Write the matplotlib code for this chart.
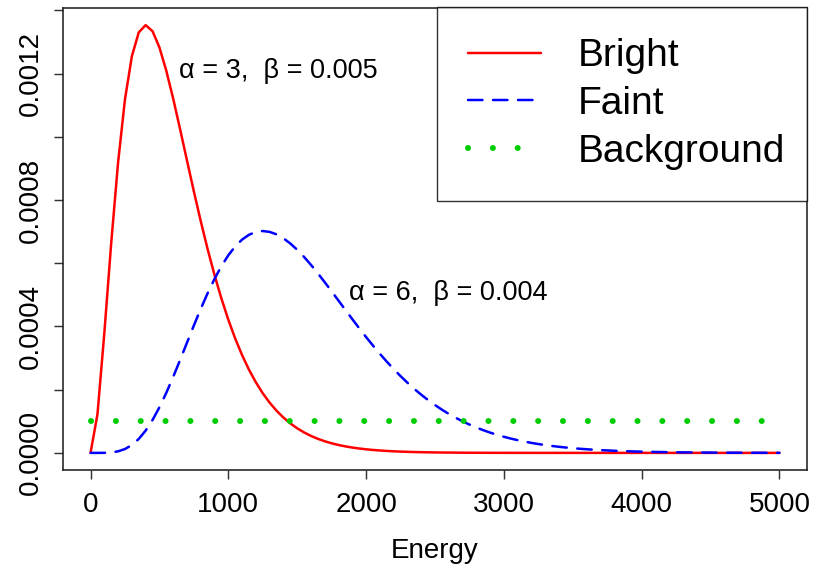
import math
import numpy as np
import matplotlib
matplotlib.use("Agg")
import matplotlib.pyplot as plt

plt.rcParams["font.family"] = ["Liberation Sans", "DejaVu Sans"]

# Energy grid on which the densities are evaluated
energy = np.linspace(0, 5000, 101)

# Gamma-distribution parameters (shape alpha, rate beta) for the two sources
bright_alpha, bright_beta = 3, 0.005
faint_alpha, faint_beta = 6, 0.004
background_level = 0.0001

series_labels = ["Bright", "Faint", "Background"]
x_ticks = [0, 1000, 2000, 3000, 4000, 5000]
y_ticks = [0.0, 0.0002, 0.0004, 0.0006, 0.0008, 0.0010, 0.0012, 0.0014]
y_tick_labels = ["0.0000", "", "0.0004", "", "0.0008", "", "0.0012", ""]


def gamma_pdf(x, a, b):
    return b ** a * x ** (a - 1) * np.exp(-b * x) / math.gamma(a)


bright = gamma_pdf(energy, bright_alpha, bright_beta)
faint = gamma_pdf(energy, faint_alpha, faint_beta)
background = np.full_like(energy, background_level)

DPI = 100
fig = plt.figure(figsize=(8.14, 5.65), dpi=DPI)
ax = fig.add_axes([63 / 814, 95 / 565, 744 / 814, 462 / 565])

px = 72 / DPI  # points per pixel

ax.plot(energy, bright, color="#FF0000", lw=2.5 * px, solid_capstyle="round",
        solid_joinstyle="round", label=series_labels[0])
ax.plot(energy, faint, color="#0000FF", lw=2.5 * px, dash_capstyle="round",
        linestyle=(0, (5.8, 4.2)), label=series_labels[1])
ax.plot(energy, background, color="#00CD00", lw=6 * px, dash_capstyle="round",
        linestyle=(0, (0.01, 4.13)), label=series_labels[2])

# Parameter annotations next to each curve
ax.text(1366, 0.001208, f"α = {bright_alpha},  β = {bright_beta}", fontsize=19.5,
        ha="center", va="center")
ax.text(2594, 0.000507, f"α = {faint_alpha},  β = {faint_beta}", fontsize=19.5,
        ha="center", va="center")

ymax = bright.max()
ax.set_xlim(-200, 5200)
ax.set_ylim(-0.04 * ymax, 1.04 * ymax)

ax.set_xticks(x_ticks)
ax.set_xticklabels([str(t) for t in x_ticks])
ax.set_yticks(y_ticks)
ax.set_yticklabels(y_tick_labels, rotation=90, va="center")
ax.tick_params(axis="both", labelsize=20, length=9 * px, width=1.45 * px,
               direction="out", color="#333333")
ax.tick_params(axis="x", pad=9)
ax.tick_params(axis="y", pad=7)
for s in ax.spines.values():
    s.set_linewidth(1.6 * px)
    s.set_color("#222222")

ax.set_xlabel("Energy", fontsize=20, labelpad=15)

leg = ax.legend(loc="upper left", bbox_to_anchor=(0.5027, 1.002, 0.4973, 0.0),
                mode="expand", fontsize=28, frameon=True, fancybox=False,
                edgecolor="black", borderaxespad=0, borderpad=0.8,
                labelspacing=0.3, handlelength=1.88, handletextpad=0.93)
leg.get_frame().set_linewidth(1.4 * px)

fig.savefig("out.png", dpi=DPI)
